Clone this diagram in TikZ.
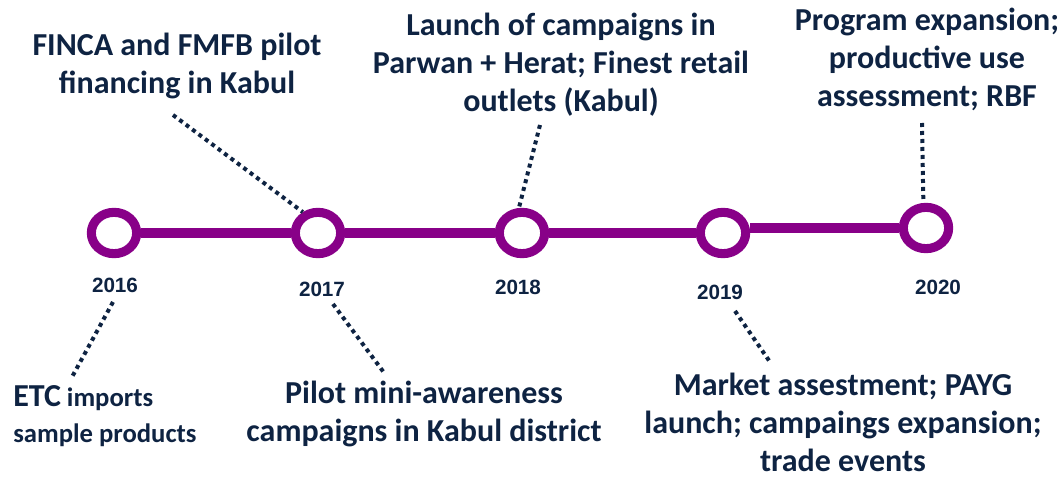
\documentclass[tikz,border=0pt]{standalone}
\usepackage{fontspec}
\setmainfont{Carlito}
\newfontfamily\yearfont{Liberation Sans}
\usepackage{tikz}
\usetikzlibrary{shapes.geometric,positioning}
\definecolor{plum}{RGB}{136,0,136}
\definecolor{ink}{RGB}{14,35,66}

\begin{document}
\begin{tikzpicture}[
  x=0.75pt,y=-0.75pt,
  mile/.style={ellipse,draw=plum,fill=white,line width=6.8pt,minimum width=34pt,minimum height=31pt,inner sep=0pt},
  year/.style={font=\yearfont\bfseries\fontsize{15.5}{18}\selectfont,text=ink,inner sep=0pt},
  event/.style={font=\bfseries\fontsize{24}{28.5}\selectfont,text=ink,align=center,inner sep=0pt},
  track/.style={draw=plum,line width=6.8pt},
  leader/.style={draw=ink,line width=3pt,dash pattern=on 3pt off 3pt}
]
  \useasboundingbox (0,0) rectangle (1061,477);

  % milestones on the time line
  \node[mile] (c16) at (114,233) {};
  \node[mile] (c17) at (318,233) {};
  \node[mile] (c18) at (522,233) {};
  \node[mile] (c19) at (723,233) {};
  \node[mile] (c20) at (926,228) {};
  \draw[track] (c16) -- (c17);
  \draw[track] (c17) -- (c18);
  \draw[track] (c18) -- (c19);
  \draw[track] (c20.west) -- (c20.west -| c19.east);

  \node[year] (y16) at (115,285) {2016};
  \node[year] (y17) at (322,289) {2017};
  \node[year] (y18) at (518,287) {2018};
  \node[year] (y19) at (720,292) {2019};
  \node[year] (y20) at (938,287) {2020};

  % events above the line
  \node[event] (finca) at (177,66) {FINCA and FMFB pilot\\financing in Kabul};
  \node[event] (launch) at (561,65) {Launch of campaigns in\\Parwan + Herat; Finest retail\\outlets (Kabul)};
  \node[event] (expand) at (927,59) {Program expansion;\\productive use\\assessment; RBF};

  % events below the line
  \node[event,font=\bfseries\fontsize{20}{27}\selectfont,anchor=west,align=left] (etc) at (13,416)
    {{\fontsize{24}{27}\selectfont ETC} imports\\sample products};
  \node[event] (pilot) at (424,414) {Pilot mini-awareness\\campaigns in Kabul district};
  \node[event] (market) at (843,422) {Market assestment; PAYG\\launch; campaings expansion;\\trade events};

  % dotted leaders
  \coordinate (finca tip) at (173,115);
  \coordinate (launch tip) at (540,125);
  \coordinate (expand tip) at (922,123);
  \draw[leader] (finca tip) -- (c17.126);
  \draw[leader] (launch tip) -- (c18.97);
  \draw[leader] (expand tip) -- (c20.96);

  \coordinate (y16 tip) at (113,302);
  \coordinate (etc tip) at (72,377);
  \coordinate (y17 tip) at (333,304);
  \coordinate (pilot tip) at (385,374);
  \coordinate (y19 tip) at (735,311);
  \coordinate (market tip) at (770,362);
  \draw[leader] (y16 tip) -- (etc tip);
  \draw[leader] (y17 tip) -- (pilot tip);
  \draw[leader] (y19 tip) -- (market tip);
\end{tikzpicture}
\end{document}
